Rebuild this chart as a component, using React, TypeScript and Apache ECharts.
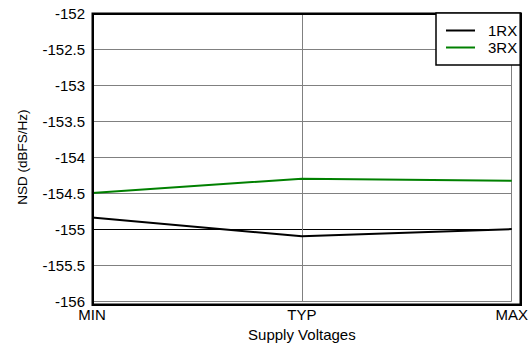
import React, { useEffect, useRef } from "react";
import * as echarts from "echarts";

const categories = ["MIN", "TYP", "MAX"];
const series1RX = [-154.84, -155.1, -155.0];
const series3RX = [-154.5, -154.3, -154.33];
const yMin = -156;
const yMax = -152;
const yInterval = 0.5;

const FONT = "Liberation Sans, Arial, sans-serif";

const GRID_LEFT = 92;
const GRID_RIGHT = 12;
const GRID_TOP = 13;
const GRID_BOTTOM = 44;
const W = 531;
const H = 347;

export default function App() {
  const ref = useRef<HTMLDivElement>(null);
  useEffect(() => {
    if (!ref.current) return;
    const chart = echarts.init(ref.current, null, { renderer: "svg" });
    const yGridColors = ["#808080", "#808080", "#000000", "#808080", "#808080", "#808080", "#808080", "#808080", "#808080"];
    chart.setOption({
      animation: false,
      textStyle: { fontFamily: FONT },
      grid: {
        left: GRID_LEFT,
        right: GRID_RIGHT,
        top: GRID_TOP,
        bottom: GRID_BOTTOM,
        show: true,
        borderWidth: 0,
        backgroundColor: "#fff",
      },
      graphic: {
        elements: [
          {
            type: "rect",
            z: 50,
            silent: true,
            left: GRID_LEFT - 0.5,
            top: GRID_TOP - 0.5,
            shape: {
              width: W - GRID_LEFT - GRID_RIGHT + 1,
              height: H - GRID_TOP - GRID_BOTTOM + 1,
            },
            style: { fill: "transparent", stroke: "#000000", lineWidth: 2.5 },
          },
        ],
      },
      legend: {
        z: 60,
        orient: "vertical",
        left: 436,
        top: 13,
        padding: [10, 3, 10, 9],
        itemWidth: 29,
        itemHeight: 14,
        itemGap: 2,
        borderColor: "#000",
        borderWidth: 1.5,
        backgroundColor: "#fff",
        itemStyle: { opacity: 0 },
        textStyle: { fontFamily: FONT, fontSize: 15, color: "#000", padding: [0, 0, 0, 8], lineHeight: 14 },
        data: ["1RX", "3RX"],
      },
      xAxis: {
        type: "category",
        data: categories,
        boundaryGap: false,
        name: "Supply Voltages",
        nameLocation: "middle",
        nameGap: 25,
        nameTextStyle: { fontFamily: FONT, fontSize: 15, color: "#000" },
        axisLine: { show: false },
        axisTick: { show: false },
        axisLabel: { fontFamily: FONT, fontSize: 15, color: "#000", margin: 6 },
        splitLine: { show: true, lineStyle: { color: "#808080", width: 1 } },
      },
      yAxis: {
        type: "value",
        min: yMin,
        max: yMax,
        interval: yInterval,
        name: "NSD (dBFS/Hz)",
        nameLocation: "middle",
        nameGap: 63,
        nameTextStyle: { fontFamily: FONT, fontSize: 13.5, color: "#000" },
        axisLine: { show: false },
        axisTick: { show: false },
        axisLabel: { fontFamily: FONT, fontSize: 15, color: "#000", margin: 7 },
        splitLine: { show: true, lineStyle: { color: yGridColors, width: 1 } },
      },
      series: [
        {
          name: "1RX",
          type: "line",
          data: series1RX,
          symbol: "none",
          lineStyle: { color: "#000", width: 2 },
          itemStyle: { color: "#000" },
        },
        {
          name: "3RX",
          type: "line",
          data: series3RX,
          symbol: "none",
          lineStyle: { color: "#008000", width: 2 },
          itemStyle: { color: "#008000" },
        },
      ],
    });
    return () => chart.dispose();
  }, []);
  return <div ref={ref} style={{ width: W, height: H, position: "absolute", left: 0, top: 0 }} />;
}
